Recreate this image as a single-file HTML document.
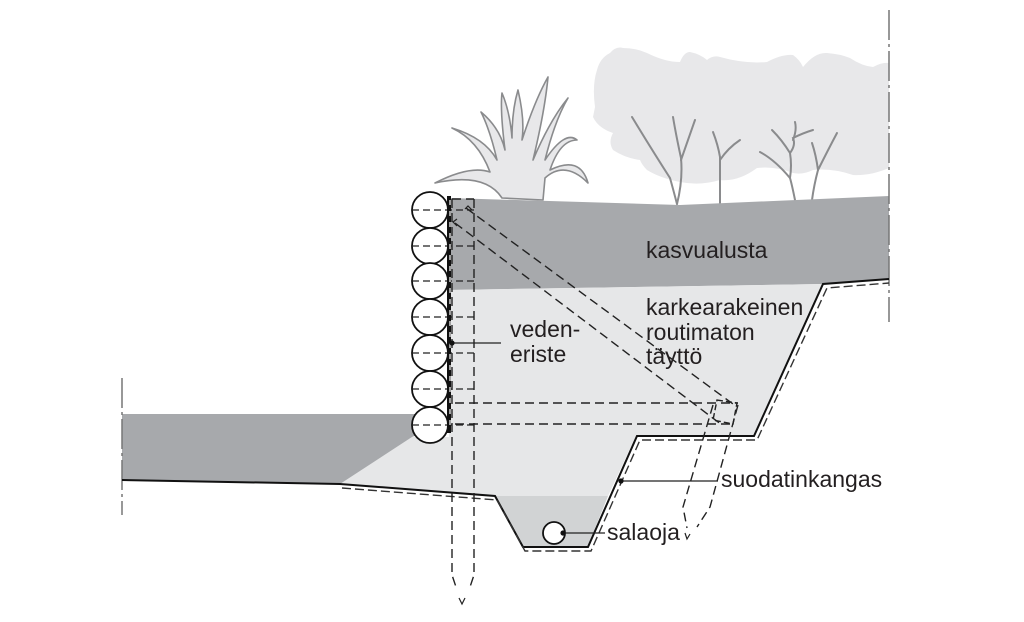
<!DOCTYPE html>
<html><head><meta charset="utf-8"><style>
html,body{margin:0;padding:0;background:#fff;}
svg{display:block;}
text{font-family:"Liberation Sans",sans-serif;font-size:23px;fill:#231f20;}
</style></head><body>
<svg width="1024" height="622" viewBox="0 0 1024 622" xmlns="http://www.w3.org/2000/svg">
<rect width="1024" height="622" fill="#fff"/>

<!-- canopy cloud -->
<path d="M595,107 Q592,85 597,70 Q600,58 610,53 Q616,46 623,48 Q636,48 647,53 Q665,62 680,62 Q684,52 690,52 Q700,54 707,60 Q713,55 720,57 Q745,64 767,62 Q782,54 793,55 Q800,60 803,67 Q815,52 827,53 Q840,54 850,58 Q862,66 873,67 Q882,62 889,63 L889,168 Q870,176 853,175 Q832,168 813,170 Q803,175 793,173 Q775,166 757,168 Q738,182 720,180 Q700,186 680,182 Q660,178 647,170 Q642,165 640,160 Q625,158 613,150 Q608,142 613,133 Q598,128 593,117 Z" fill="#e8e8ea"/>

<!-- trees -->
<g stroke="#8a8b8d" stroke-width="2" fill="none" stroke-linecap="round">
<path d="M677,204 Q672,185 670,178 Q652,150 632,117"/>
<path d="M677,204 Q683,180 681,158 Q676,135 673,117"/>
<path d="M681,160 Q688,140 695,120"/>
<path d="M720,204 L720,157 Q718,145 713,132"/>
<path d="M720,160 Q728,148 740,140"/>
<path d="M795,200 Q792,185 790,178 Q775,160 760,152"/>
<path d="M790,178 Q792,165 790,153 Q782,140 772,130"/>
<path d="M790,153 Q796,145 793,138 Q803,133 813,130"/>
<path d="M793,140 Q797,130 795,122"/>
<path d="M812,200 Q814,185 818,170 Q816,155 812,143"/>
<path d="M818,170 Q828,150 837,133"/>
</g>

<!-- grass -->
<path d="M502,198 Q485,172 435,183 Q470,165 490,172 Q478,140 452,128 Q485,138 497,160 Q490,130 481,112 Q500,128 505,150 Q500,110 502,93 Q510,112 512,138 Q512,110 518,90 Q525,120 522,140 Q535,100 548,77 Q545,110 533,160 Q550,120 568,98 Q555,120 545,160 Q565,130 577,140 Q560,140 550,170 Q580,155 588,183 Q565,160 545,178 L543,200 Z" fill="#e8e8ea" stroke="#8a8b8d" stroke-width="1.6" stroke-linejoin="round"/>

<!-- soil layers -->
<polygon points="449,198 680,205 889,196 889,279 823,284 449,290" fill="#a7a9ac"/>
<polygon points="449,290 823,284 754,436 636,436 608,496 495,496 340,484 412,437 449,437" fill="#e6e7e8"/>
<polygon points="122,414 430,414 430,430 412,437 340,484 122,480" fill="#a7a9ac"/>
<polygon points="495,496 608,496 588,546 523,546" fill="#d1d3d4"/>

<!-- section lines -->
<line x1="122" y1="378" x2="122" y2="515" stroke="#777" stroke-width="1.5" stroke-dasharray="30 4 3 4"/>
<line x1="889" y1="10" x2="889" y2="322" stroke="#777" stroke-width="1.5" stroke-dasharray="30 4 3 4"/>

<!-- ground line and filter fabric -->
<path d="M122,480 L340,484 L495,496 L523,547 L588,547 L637,436 L754,436 L823,284 L889,279" fill="none" stroke="#111" stroke-width="2"/>
<path d="M342,488 L497,500 L525,551 L591,551 L640,440 L757,440 L827,288 L889,283" fill="none" stroke="#333" stroke-width="1.4" stroke-dasharray="9 4"/>

<!-- dashed structures -->
<g fill="none" stroke="#222" stroke-width="1.4" stroke-dasharray="9 5">
<path d="M452,199 L474,199"/>
<path d="M452,199 L452,575 L457,590"/>
<path d="M474,199 L474,575 L469,590"/>
<path d="M466,208 L733,404"/>
<path d="M455,223 L722,425"/>
<path d="M455,403 L738,403"/>
<path d="M455,424 L735,424"/>
<path d="M713,405 L683,507 L687,528"/>
<path d="M738,405 L710,507 L697,527"/>
<path d="M717,400 L737,403 L733,424 L713,420 Z" stroke-dasharray="6 3"/>
</g>
<path d="M459,598 L462,604 L465,598" fill="none" stroke="#222" stroke-width="1.2"/>
<path d="M685,533 L687,539 L690,534" fill="none" stroke="#222" stroke-width="1.2"/>
<path d="M465,209 L468,206 L472,210" fill="none" stroke="#222" stroke-width="1.2"/>
<path d="M457,219 L453,222 L457,226" fill="none" stroke="#222" stroke-width="1.2"/>

<!-- logs -->
<g fill="#fff" stroke="#111" stroke-width="1.8">
<circle cx="430" cy="210" r="18"/>
<circle cx="430" cy="246" r="18"/>
<circle cx="430" cy="281" r="18"/>
<circle cx="430" cy="317" r="18"/>
<circle cx="430" cy="353" r="18"/>
<circle cx="430" cy="389" r="18"/>
<circle cx="430" cy="425" r="18"/>
</g>
<g stroke="#222" stroke-width="1.3" stroke-dasharray="7 4">
<line x1="412" y1="210" x2="478" y2="210"/>
<line x1="412" y1="246" x2="478" y2="246"/>
<line x1="412" y1="281" x2="478" y2="281"/>
<line x1="412" y1="317" x2="478" y2="317"/>
<line x1="412" y1="353" x2="478" y2="353"/>
<line x1="412" y1="389" x2="478" y2="389"/>
<line x1="412" y1="425" x2="478" y2="425"/>
</g>

<!-- waterproofing wall -->
<line x1="449" y1="196" x2="449" y2="433" stroke="#111" stroke-width="4"/>
<line x1="450" y1="200" x2="450" y2="430" stroke="#fff" stroke-width="1.2" stroke-dasharray="5 6"/>

<!-- drain pipe -->
<circle cx="554" cy="533" r="11" fill="#fff" stroke="#111" stroke-width="1.8"/>

<!-- leaders -->
<g stroke="#222" stroke-width="1.2">
<line x1="452" y1="343" x2="501" y2="343"/>
<line x1="621" y1="481" x2="718" y2="481"/>
<line x1="563" y1="533" x2="605" y2="533"/>
</g>
<circle cx="452" cy="343" r="2.6" fill="#111"/>
<circle cx="621" cy="481" r="2.6" fill="#111"/>
<circle cx="563" cy="533" r="2.6" fill="#111"/>

<!-- labels -->
<text x="646" y="258">kasvualusta</text>
<text x="646" y="315">karkearakeinen</text>
<text x="646" y="340">routimaton</text>
<text x="646" y="364">täyttö</text>
<text x="510" y="337">veden-</text>
<text x="510" y="362">eriste</text>
<text x="721" y="487">suodatinkangas</text>
<text x="607" y="540">salaoja</text>
</svg>
</body></html>
